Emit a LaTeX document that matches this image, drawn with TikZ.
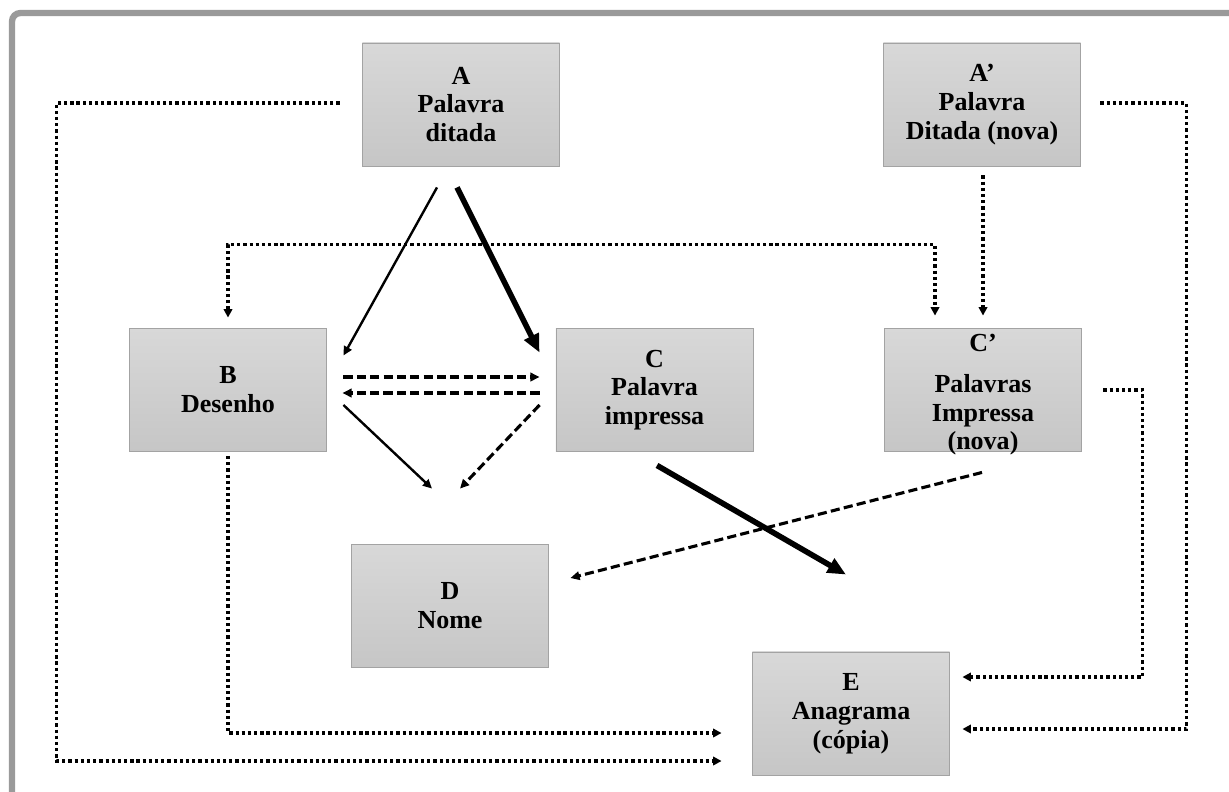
\documentclass[tikz,border=0pt]{standalone}
\usepackage{fontspec}
\setmainfont{Liberation Serif}
\usetikzlibrary{arrows.meta,calc}
\definecolor{boxtop}{HTML}{D8D8D8}
\definecolor{boxbot}{HTML}{C6C6C6}
\definecolor{boxline}{HTML}{A3A3A3}
\definecolor{framegray}{HTML}{9A9A9A}
\tikzset{
  box/.style={draw=boxline, line width=0.6pt, top color=boxtop, bottom color=boxbot,
    minimum width=4.925cm, minimum height=3.075cm, inner sep=0pt, align=center,
    font=\fontsize{18.5}{20.5}\selectfont\bfseries},
  thinarr/.style={line width=1.7pt, -{Triangle[length=6.5pt,width=6pt]}},
  thickarr/.style={line width=4pt, -{Triangle[length=13pt,width=11pt]}},
  dasharr/.style={line width=2.2pt, dash pattern=on 6.5pt off 3pt, -{Triangle[length=6.5pt,width=6pt]}},
  dotarr/.style={line width=2.3pt, dash pattern=on 2.3pt off 2.1pt, -{Triangle[length=6pt,width=6pt]}},
  dotboth/.style={line width=2.3pt, dash pattern=on 2.3pt off 2.1pt, {Triangle[length=6pt,width=6pt]}-{Triangle[length=6pt,width=6pt]}},
}
\begin{document}
\begin{tikzpicture}[x=0.025cm,y=-0.025cm]
\useasboundingbox (0,0) rectangle (1229,791);
\draw[line width=4.5pt, framegray, rounded corners=6pt] (12,900) -- (12,13) -- (1300,13);

\node[box] (A)  at (461,104.5) {A\\ Palavra\\ ditada};
\node[box] (Ap) at (982,104.5) {A’\\ Palavra\\ Ditada (nova)};
\node[box] (B)  at (228,390) {B\\ Desenho};
\node[box] (C)  at (654.5,390) {C\\ Palavra\\ impressa};
\node[box] (Cp) at (983,390) {\raisebox{27.4pt}[0pt][0pt]{\begin{tabular}[t]{@{}c@{}}C’\\[8.5pt] Palavras\\ Impressa\\ (nova)\end{tabular}}};
\node[box] (D)  at (450,606) {D\\ Nome};
\node[box] (E)  at (851,713.5) {E\\ Anagrama\\ (cópia)};

% solid arrows
\draw[thinarr] ($(A.south)+(-24,21)$) -- ($(B.north east)+(16.5,27.5)$);
\draw[thickarr] ($(A.south)+(-4,21)$) -- ($(C.north west)+(-16,24.5)$);
\draw[thinarr] ($(B.east)+(16.5,15)$) -- ($(D.north)+(-18,-55.5)$);
\draw[thickarr] ($(C.south)+(2.5,13.5)$) -- ($(E.north)+(-5,-77)$);

% dashed arrows
\draw[dasharr] ($(B.east)+(16.5,-13)$) -- ($(C.west)+(-16,-13)$);
\draw[dasharr] ($(C.west)+(-16,3)$) -- ($(B.east)+(15.5,3)$);
\draw[dasharr] ($(C.west)+(-16,15)$) -- ($(D.north)+(10,-55.5)$);
\draw[dasharr] ($(Cp.south)+(-1,20.5)$) -- ($(D.east)+(21.5,-28)$);

% dotted arrows
\draw[dotarr] ($(A.west)+(-22.5,-1.5)$) -- ++(-283,0) |- ($(E.west)+(-30.5,47.5)$);
\draw[dotarr] ($(B.south)+(0,4)$) |- ($(E.west)+(-30.5,19.5)$);
\draw[dotarr] ($(Ap.east)+(19.5,-1.5)$) -- ++(86,0) |- ($(E.east)+(12.5,15.5)$);
\draw[dotarr] ($(Cp.east)+(21.5,0)$) -- ++(39,0) |- ($(E.east)+(12.5,-36.5)$);
\draw[dotarr] ($(Ap.south)+(1,9)$) -- ($(Cp.north)+(0,-12.5)$);
\draw[dotboth] ($(B.north)+(0,-10.5)$) -- ++(0,-73) -| ($(Cp.north)+(-48,-12.5)$);
\end{tikzpicture}
\end{document}
